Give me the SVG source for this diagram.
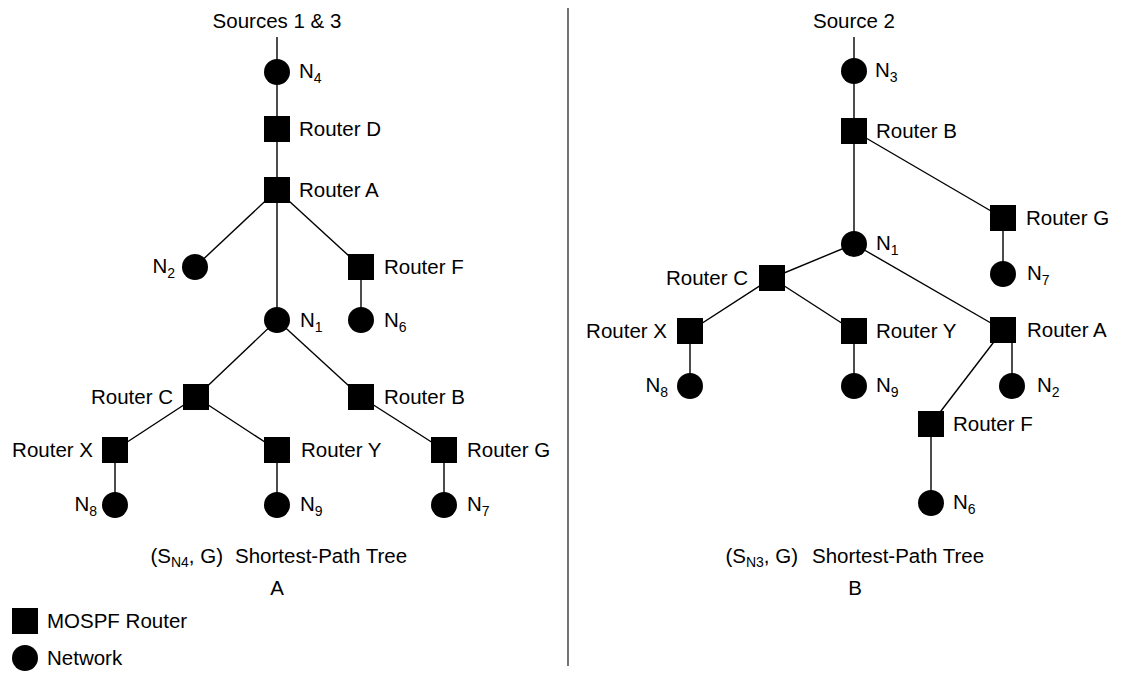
<svg xmlns="http://www.w3.org/2000/svg" width="1122" height="674" viewBox="0 0 1122 674">
<style>
text{font-family:"Liberation Sans",Arial,sans-serif;font-size:20.5px;fill:#000}
.sub{font-size:14px}
.e{text-anchor:end}
.m{text-anchor:middle}
.conn line{stroke:#000;stroke-width:1.4}
</style>
<defs>
<rect id="sq" x="-13" y="-13" width="26" height="26"/>
<circle id="ci" r="13"/>
</defs>
<rect width="1122" height="674" fill="#fff"/>
<line x1="568" y1="8" x2="568" y2="666" stroke="#000" stroke-width="1.1"/>
<g id="connectors" class="conn">
<line x1="277" y1="37" x2="277" y2="320"/>
<line x1="277" y1="190" x2="195" y2="267"/>
<line x1="277" y1="190" x2="361" y2="267"/>
<line x1="361" y1="267" x2="361" y2="320"/>
<line x1="277" y1="320" x2="196" y2="397"/>
<line x1="277" y1="320" x2="361" y2="397"/>
<line x1="196" y1="397" x2="115" y2="450"/>
<line x1="196" y1="397" x2="277" y2="450"/>
<line x1="361" y1="397" x2="444" y2="450"/>
<line x1="115" y1="450" x2="115" y2="505"/>
<line x1="277" y1="450" x2="277" y2="505"/>
<line x1="444" y1="450" x2="444" y2="505"/>
<line x1="854" y1="37" x2="854" y2="244"/>
<line x1="854" y1="131" x2="1003" y2="218"/>
<line x1="1003" y1="218" x2="1003" y2="274"/>
<line x1="854" y1="244" x2="772" y2="278"/>
<line x1="854" y1="244" x2="1003" y2="330"/>
<line x1="772" y1="278" x2="690" y2="331"/>
<line x1="772" y1="278" x2="854" y2="331"/>
<line x1="690" y1="331" x2="690" y2="386"/>
<line x1="854" y1="331" x2="854" y2="386"/>
<line x1="1012" y1="330" x2="1012" y2="386"/>
<line x1="1003" y1="330" x2="931" y2="424"/>
<line x1="931" y1="424" x2="931" y2="503"/>
</g>
<text class="m" x="277" y="28">Sources 1 &amp; 3</text>
<g id="A-N4"><use href="#ci" x="277" y="72"/><text x="299" y="78">N<tspan class="sub" dy="5">4</tspan></text></g>
<g id="A-RD"><use href="#sq" x="277" y="129"/><text x="299" y="136">Router D</text></g>
<g id="A-RA"><use href="#sq" x="277" y="190"/><text x="299" y="197">Router A</text></g>
<g id="A-N2"><use href="#ci" x="195" y="267"/><text class="e" x="175" y="273">N<tspan class="sub" dy="5">2</tspan></text></g>
<g id="A-RF"><use href="#sq" x="361" y="267"/><text x="384" y="274">Router F</text></g>
<g id="A-N1"><use href="#ci" x="277" y="320"/><text x="300" y="327">N<tspan class="sub" dy="5">1</tspan></text></g>
<g id="A-N6"><use href="#ci" x="361" y="320"/><text x="384" y="327">N<tspan class="sub" dy="5">6</tspan></text></g>
<g id="A-RC"><use href="#sq" x="196" y="397"/><text class="e" x="173" y="404">Router C</text></g>
<g id="A-RB"><use href="#sq" x="361" y="397"/><text x="384" y="404">Router B</text></g>
<g id="A-RX"><use href="#sq" x="115" y="450"/><text class="e" x="93" y="457">Router X</text></g>
<g id="A-RY"><use href="#sq" x="277" y="450"/><text x="301" y="457">Router Y</text></g>
<g id="A-RG"><use href="#sq" x="444" y="450"/><text x="467" y="457">Router G</text></g>
<g id="A-N8"><use href="#ci" x="115" y="505"/><text class="e" x="97" y="511">N<tspan class="sub" dy="5">8</tspan></text></g>
<g id="A-N9"><use href="#ci" x="277" y="505"/><text x="300" y="511">N<tspan class="sub" dy="5">9</tspan></text></g>
<g id="A-N7"><use href="#ci" x="444" y="505"/><text x="467" y="511">N<tspan class="sub" dy="5">7</tspan></text></g>
<text class="e" x="223" y="563">(S<tspan class="sub" dy="4">N4</tspan><tspan dy="-4">, G)</tspan></text>
<text x="235" y="563">Shortest-Path Tree</text>
<text class="m" x="277" y="595">A</text>
<text class="m" x="854" y="28">Source 2</text>
<g id="B-N3"><use href="#ci" x="854" y="71"/><text x="875" y="77">N<tspan class="sub" dy="5">3</tspan></text></g>
<g id="B-RB"><use href="#sq" x="854" y="131"/><text x="876" y="138">Router B</text></g>
<g id="B-RG"><use href="#sq" x="1003" y="218"/><text x="1026" y="225">Router G</text></g>
<g id="B-N1"><use href="#ci" x="854" y="244"/><text x="876" y="250">N<tspan class="sub" dy="5">1</tspan></text></g>
<g id="B-N7"><use href="#ci" x="1003" y="274"/><text x="1027" y="280">N<tspan class="sub" dy="5">7</tspan></text></g>
<g id="B-RC"><use href="#sq" x="772" y="278"/><text class="e" x="748" y="285">Router C</text></g>
<g id="B-RX"><use href="#sq" x="690" y="331"/><text class="e" x="667" y="338">Router X</text></g>
<g id="B-RY"><use href="#sq" x="854" y="331"/><text x="876" y="338">Router Y</text></g>
<g id="B-RA"><use href="#sq" x="1003" y="330"/><text x="1027" y="337">Router A</text></g>
<g id="B-N8"><use href="#ci" x="690" y="386"/><text class="e" x="668" y="392">N<tspan class="sub" dy="5">8</tspan></text></g>
<g id="B-N9"><use href="#ci" x="854" y="386"/><text x="876" y="392">N<tspan class="sub" dy="5">9</tspan></text></g>
<g id="B-N2"><use href="#ci" x="1012" y="386"/><text x="1037" y="392">N<tspan class="sub" dy="5">2</tspan></text></g>
<g id="B-RF"><use href="#sq" x="931" y="424"/><text x="953" y="431">Router F</text></g>
<g id="B-N6"><use href="#ci" x="931" y="503"/><text x="953" y="509">N<tspan class="sub" dy="5">6</tspan></text></g>
<text class="e" x="798" y="563">(S<tspan class="sub" dy="4">N3</tspan><tspan dy="-4">, G)</tspan></text>
<text x="812" y="563">Shortest-Path Tree</text>
<text class="m" x="855" y="595">B</text>
<g id="legend-router"><use href="#sq" x="25" y="621"/><text x="47" y="628">MOSPF Router</text></g>
<g id="legend-network"><use href="#ci" x="25" y="658"/><text x="47" y="665">Network</text></g>
</svg>
